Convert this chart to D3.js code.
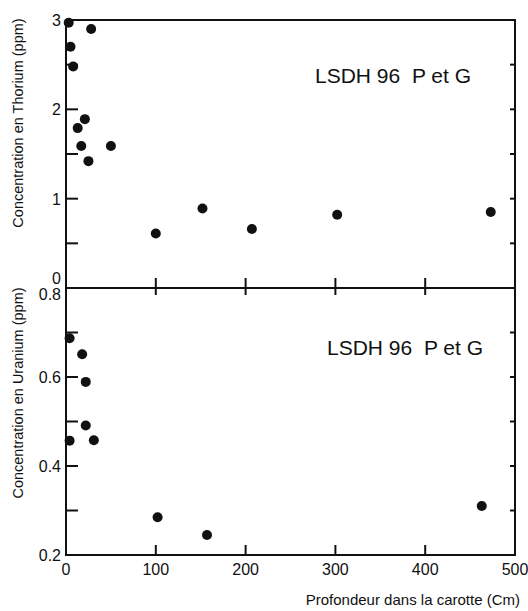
<!DOCTYPE html>
<html>
<head>
<meta charset="utf-8">
<script src="https://cdn.jsdelivr.net/npm/d3@7"></script>
<style>
  html, body { margin: 0; padding: 0; background: #fff; }
  svg { display: block; }
  text { font-family: "Liberation Sans", Arial, sans-serif; fill: #111; }
</style>
</head>
<body>
<div id="chart"></div>
<script>
// dimensions
const W = 528, H = 611;
const X0 = 66, X1 = 515;
const TOP_Y0 = 20, MID_Y = 288, BOT_Y1 = 555;

// data: Thorium (depth cm, ppm)
const thDepth = [3, 28, 5, 8, 21, 13, 17, 25, 50, 100, 152, 207, 302, 473];
const thConc  = [2.97, 2.9, 2.7, 2.48, 1.89, 1.79, 1.59, 1.42, 1.59, 0.61, 0.89, 0.66, 0.82, 0.85];

// data: Uranium (depth cm, ppm)
const uDepth = [4, 18, 22, 22, 4, 31, 102, 157, 463];
const uConc  = [0.687, 0.651, 0.589, 0.491, 0.457, 0.458, 0.285, 0.245, 0.31];

const xTicks = [0, 100, 200, 300, 400, 500];
const thTickLabels = [0, 1, 2, 3];
const thMinorTicks = [0.5, 1, 1.5, 2, 2.5];
const uTickLabels = [0.2, 0.4, 0.6, 0.8];
const uMinorTicks = [0.3, 0.4, 0.5, 0.6, 0.7];

const svg = d3.select('#chart').append('svg')
    .attr('width', W).attr('height', H);

const x = d3.scaleLinear().domain([0, 500]).range([X0, X1]);
const yTh = d3.scaleLinear().domain([0, 3]).range([MID_Y, TOP_Y0]);
const yU = d3.scaleLinear().domain([0.2, 0.8]).range([BOT_Y1, MID_Y]);

// frame
svg.append('rect')
    .attr('x', X0).attr('y', TOP_Y0)
    .attr('width', X1 - X0).attr('height', BOT_Y1 - TOP_Y0)
    .attr('fill', 'none').attr('stroke', '#111').attr('stroke-width', 2);
svg.append('line')
    .attr('x1', X0).attr('x2', X1).attr('y1', MID_Y).attr('y2', MID_Y)
    .attr('stroke', '#111').attr('stroke-width', 2);

// left & right ticks
function sideTicks(vals, y, len) {
    svg.append('g').selectAll('line.l').data(vals).enter().append('line')
        .attr('x1', X0).attr('x2', X0 + len)
        .attr('y1', d => y(d)).attr('y2', d => y(d))
        .attr('stroke', '#111').attr('stroke-width', 2);
    svg.append('g').selectAll('line.r').data(vals).enter().append('line')
        .attr('x1', X1 - 5).attr('x2', X1)
        .attr('y1', d => y(d)).attr('y2', d => y(d))
        .attr('stroke', '#111').attr('stroke-width', 2);
}
sideTicks(thMinorTicks, yTh, 12);
sideTicks(uMinorTicks, yU, 12);

// x ticks on middle and bottom axes
const inner = xTicks.slice(1, -1);
svg.append('g').selectAll('line').data(inner).enter().append('line')
    .attr('x1', d => x(d)).attr('x2', d => x(d))
    .attr('y1', MID_Y - 10).attr('y2', MID_Y + 7)
    .attr('stroke', '#111').attr('stroke-width', 2);
svg.append('g').selectAll('line').data(inner).enter().append('line')
    .attr('x1', d => x(d)).attr('x2', d => x(d))
    .attr('y1', BOT_Y1 - 10).attr('y2', BOT_Y1)
    .attr('stroke', '#111').attr('stroke-width', 2);

// tick labels
svg.append('g').selectAll('text').data(xTicks).enter().append('text')
    .attr('x', d => x(d)).attr('y', BOT_Y1 + 20)
    .attr('text-anchor', 'middle').attr('font-size', 16)
    .text(d => d);

svg.append('g').selectAll('text').data(thTickLabels).enter().append('text')
    .attr('x', 61).attr('y', d => yTh(d) + (d === 0 ? -4 : 6))
    .attr('text-anchor', 'end').attr('font-size', 16)
    .text(d => d);

svg.append('g').selectAll('text').data(uTickLabels).enter().append('text')
    .attr('x', 61).attr('y', d => yU(d) + (d === 0.8 ? 12 : 6))
    .attr('text-anchor', 'end').attr('font-size', 16)
    .text(d => d.toFixed(1));

// axis titles
svg.append('text')
    .attr('transform', `translate(23,${123}) rotate(-90)`)
    .attr('text-anchor', 'middle').attr('font-size', 14.5)
    .text('Concentration en Thorium (ppm)');
svg.append('text')
    .attr('transform', `translate(23,${393}) rotate(-90)`)
    .attr('text-anchor', 'middle').attr('font-size', 14.5)
    .text('Concentration en Uranium (ppm)');
svg.append('text')
    .attr('x', 520).attr('y', 605)
    .attr('text-anchor', 'end').attr('font-size', 15)
    .text('Profondeur dans la carotte (Cm)');

// annotations
svg.append('text')
    .attr('x', 315).attr('y', 83)
    .attr('font-size', 21).style('white-space', 'pre')
    .text('LSDH 96  P et G');
svg.append('text')
    .attr('x', 327).attr('y', 355)
    .attr('font-size', 21).style('white-space', 'pre')
    .text('LSDH 96  P et G');

// points
svg.append('g').selectAll('circle').data(thDepth).enter().append('circle')
    .attr('cx', d => x(d)).attr('cy', (d, i) => yTh(thConc[i]))
    .attr('r', 5).attr('fill', '#111');
svg.append('g').selectAll('circle').data(uDepth).enter().append('circle')
    .attr('cx', d => x(d)).attr('cy', (d, i) => yU(uConc[i]))
    .attr('r', 5).attr('fill', '#111');
</script>
</body>
</html>
